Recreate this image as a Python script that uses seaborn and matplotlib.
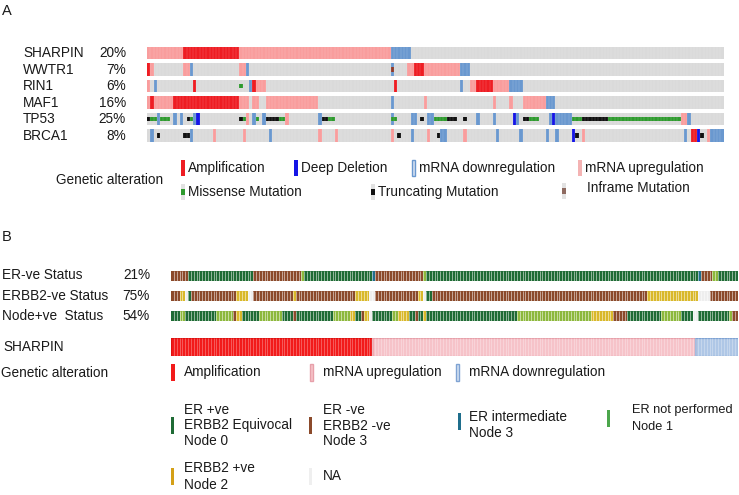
#!/usr/bin/env python3
"""
Oncoprint: SHARPIN y genes asociados (panel A) y estado clínico (panel B).
"""

import numpy as np
import matplotlib
matplotlib.use("Agg")
import matplotlib.pyplot as plt
from matplotlib.colors import ListedColormap
from matplotlib.patches import Rectangle
import seaborn as sns

sns.set_theme(style="white")
plt.rcParams["font.family"] = ["Liberation Sans", "DejaVu Sans"]
plt.rcParams["text.color"] = "#1a1a1a"

W, H = 739, 495

# ---------------- Panel A data ----------------
GENES_A = ["SHARPIN", "WWTR1", "RIN1", "MAF1", "TP53", "BRCA1"]
PCT_A = ["20%", "7%", "6%", "16%", "25%", "8%"]
N_A = 175

# base alterations: (code, first column, number of columns)
# U = mRNA up, A = amplification, L = mRNA down, D = deep deletion
SHARPIN_A = [("U", 0, 11), ("A", 11, 17), ("U", 28, 46), ("L", 74, 6)]
WWTR1_A = [("A", 0, 1), ("U", 1, 1), ("U", 11, 2), ("L", 13, 1), ("U", 28, 2),
           ("L", 30, 1), ("L", 74, 1), ("U", 79, 2), ("A", 81, 3), ("U", 84, 11),
           ("L", 95, 3)]
RIN1_A = [("U", 0, 1), ("L", 2, 1), ("A", 14, 1), ("L", 31, 1), ("A", 32, 1),
          ("U", 33, 3), ("A", 75, 1), ("L", 95, 1), ("U", 98, 2), ("A", 100, 5),
          ("U", 105, 5), ("L", 110, 4)]
MAF1_A = [("U", 0, 1), ("A", 1, 1), ("U", 2, 6), ("A", 8, 20), ("U", 28, 3),
          ("U", 32, 2), ("U", 36, 16), ("L", 74, 1), ("U", 84, 1), ("U", 105, 1),
          ("U", 110, 1), ("U", 114, 7), ("L", 121, 3)]
TP53_A = [("L", 3, 1), ("L", 8, 1), ("L", 10, 1), ("L", 14, 1), ("D", 15, 1),
          ("U", 30, 1), ("L", 32, 1), ("L", 35, 1), ("U", 42, 1), ("L", 52, 1),
          ("L", 74, 1), ("L", 80, 1), ("L", 81, 1), ("L", 85, 2), ("L", 100, 1),
          ("L", 105, 1), ("D", 111, 1), ("L", 112, 1), ("L", 122, 1), ("D", 123, 1),
          ("L", 124, 5), ("U", 162, 2), ("L", 164, 1)]
BRCA1_A = [("L", 1, 1), ("L", 13, 1), ("U", 20, 1), ("U", 29, 1), ("L", 37, 1),
           ("U", 52, 1), ("U", 57, 1), ("U", 74, 1), ("L", 80, 1), ("U", 85, 1),
           ("L", 89, 2), ("U", 96, 1), ("L", 106, 1), ("L", 113, 1), ("L", 121, 1),
           ("L", 124, 1), ("D", 129, 1), ("U", 132, 1), ("L", 163, 1), ("A", 165, 2),
           ("D", 167, 1), ("U", 170, 1), ("L", 171, 4)]

# mutations: (type, first column, number of columns)
# M = missense, T = truncating, I = inframe
WWTR1_MUT = [("I", 74, 1)]
RIN1_MUT = [("M", 28, 1)]
TP53_MUT = [("T", 0, 1), ("M", 1, 2), ("M", 4, 3), ("T", 12, 1), ("M", 13, 1),
            ("T", 28, 1), ("M", 29, 1), ("M", 33, 1), ("T", 36, 4), ("M", 40, 2),
            ("T", 53, 2), ("M", 55, 2), ("M", 74, 2), ("T", 83, 1), ("M", 87, 4),
            ("T", 91, 3), ("T", 96, 1), ("T", 114, 2), ("M", 116, 3), ("M", 129, 3),
            ("T", 132, 8), ("M", 140, 22)]
BRCA1_MUT = [("T", 3, 1), ("T", 11, 2), ("T", 76, 1), ("T", 88, 1), ("T", 130, 1),
             ("T", 168, 1)]

ROWS_A = [SHARPIN_A, WWTR1_A, RIN1_A, MAF1_A, TP53_A, BRCA1_A]
MUTS_A = [[], WWTR1_MUT, RIN1_MUT, [], TP53_MUT, BRCA1_MUT]

# ---------------- Panel B data ----------------
LABELS_B = ["ER-ve Status", "ERBB2-ve Status", "Node+ve  Status"]
PCT_B = ["21%", "75%", "54%"]

# runs: (category, number of columns); G=ER+ve/Equivocal/Node0, B=ER-ve/ERBB2-ve/Node3,
# I=ER intermediate, L=ER not performed/Node1, Y=ERBB2+ve/Node2, N=NA
ER_B = [("B", 6), ("G", 23), ("B", 17), ("L", 1), ("G", 24), ("I", 1), ("B", 17),
        ("L", 1), ("G", 96), ("I", 1), ("B", 4), ("L", 2), ("G", 7)]
ERBB2_B = [("B", 3), ("Y", 2), ("N", 1), ("G", 1), ("B", 16), ("Y", 4), ("N", 2),
           ("B", 14), ("Y", 1), ("B", 21), ("Y", 5), ("N", 2), ("B", 15), ("Y", 2),
           ("N", 1), ("G", 2), ("B", 76), ("Y", 18), ("N", 4), ("B", 10)]
NODE_B = [("G", 3), ("L", 2), ("G", 11), ("L", 6), ("B", 1), ("Y", 2), ("G", 6),
          ("L", 8), ("G", 4), ("B", 1), ("G", 13), ("L", 6), ("Y", 2), ("G", 2),
          ("B", 1), ("Y", 2), ("N", 1), ("G", 7), ("L", 2), ("Y", 4), ("G", 2),
          ("B", 1), ("G", 2), ("Y", 1), ("G", 32), ("L", 26), ("Y", 8), ("B", 5),
          ("G", 12), ("L", 7), ("G", 4), ("N", 2), ("G", 11), ("L", 1), ("B", 2)]
SHARPIN_B = [("A", 71), ("U", 114), ("L", 15)]

# ---------------- colours ----------------
GRAY = "#DADADA"
ALT_CODES = {"N": 0, "A": 1, "D": 2, "L": 3, "U": 4}
ALT_COLORS = [GRAY, "#EE1D23", "#1515E6", "#6A98CF", "#F99D9D"]
MUT_COLORS = {"M": "#2E9A2E", "T": "#111111", "I": "#8E3A2A"}

CLIN_CODES = {"G": 0, "B": 1, "I": 2, "L": 3, "Y": 4, "N": 5}
CLIN_COLORS = ["#1F6B35", "#8B4A2B", "#1F6E8C", "#8DB83C", "#D9B82A", "#EEEEEE"]
SHB_CODES = {"A": 0, "U": 1, "L": 2}
SHB_COLORS = ["#F21B1B", "#F6C3C9", "#AFC7E6"]
SHB_EDGES = ["#E01010", "#E7A0AA", "#7FA3D3"]


def px_axes(x0, y0, x1, y1):
    """Axes a partir de coordenadas en píxeles (origen arriba-izquierda)."""
    return fig.add_axes([x0 / W, 1 - y1 / H, (x1 - x0) / W, (y1 - y0) / H])


def expand_segments(segs, n):
    row = np.zeros(n, dtype=int)
    for code, start, count in segs:
        row[start:start + count] = ALT_CODES[code]
    return row


def expand_runs(runs, mapping):
    return np.array([mapping[c] for c, cnt in runs for _ in range(cnt)])


def draw_track(box, codes, colors, lw, sep_color="white", sep_alpha=0.0):
    ax = px_axes(*box)
    sns.heatmap(codes[None, :], cmap=ListedColormap(colors), vmin=-0.5,
                vmax=len(colors) - 0.5, cbar=False, linewidths=0,
                xticklabels=False, yticklabels=False, ax=ax)
    ax.set_xlim(0, len(codes))
    ax.set_ylim(1, 0)
    # separadores finos entre columnas
    if sep_alpha > 0:
        ax.vlines(np.arange(1, len(codes)), 0, 1, color=sep_color,
                  linewidth=lw, alpha=sep_alpha)
    return ax


fig = plt.figure(figsize=(W / 100, H / 100), dpi=100)
fig.patch.set_facecolor("white")

# ---------------- Panel A ----------------
A_X0, A_X1 = 147, 723.5
A_TOPS = [46.5, 63, 79.5, 96, 112.5, 129]
A_H = 12.8

for segs, muts, top in zip(ROWS_A, MUTS_A, A_TOPS):
    ax = draw_track((A_X0, top, A_X1, top + A_H), expand_segments(segs, N_A),
                    ALT_COLORS, 0.3, sep_alpha=0.35)
    for kind, start, count in muts:
        cols = np.arange(start, start + count) + 0.5
        ax.bar(cols, 0.34, bottom=0.33, width=1.0, color=MUT_COLORS[kind],
               linewidth=0)

# ---------------- Panel B ----------------
B_X0, B_X1 = 171, 738
B_TOPS = [270.5, 290.5, 310.5]
for runs, top in zip([ER_B, ERBB2_B, NODE_B], B_TOPS):
    draw_track((B_X0, top, B_X1, top + 10), expand_runs(runs, CLIN_CODES),
               CLIN_COLORS, 0.45, sep_alpha=0.8)

ax = draw_track((B_X0, 338, B_X1, 356), expand_runs(SHARPIN_B, SHB_CODES),
                SHB_COLORS, 0.4, sep_alpha=0.5)
pos = 0
for code, cnt in SHARPIN_B:
    ax.add_patch(Rectangle((pos, 0.02), cnt, 0.96, fill=False,
                           edgecolor=SHB_EDGES[SHB_CODES[code]], linewidth=0.9))
    pos += cnt

# ---------------- textos y leyendas (coordenadas en píxeles) ----------------
lg = fig.add_axes([0, 0, 1, 1])
lg.set_xlim(0, W)
lg.set_ylim(H, 0)
lg.axis("off")
lg.patch.set_alpha(0)

FS = 9.8


def txt(x, y, s, ha="left", fs=FS):
    lg.text(x, y, s, ha=ha, va="center", fontsize=fs)


def mark(x, yc, color, edge=None, w=4, h=16, inner=None):
    lg.add_patch(Rectangle((x, yc - h / 2), w, h, facecolor=color,
                           edgecolor=edge if edge else "none", linewidth=1 if edge else 0))
    if inner:
        lg.add_patch(Rectangle((x, yc - h / 6), w, h / 3, facecolor=inner,
                               edgecolor="none"))


txt(2, 11, "A", fs=10.5)
for gene, pct, top in zip(GENES_A, PCT_A, A_TOPS):
    txt(23, top + A_H / 2 + 0.5, gene)
    txt(126, top + A_H / 2 + 0.5, pct, ha="right")

txt(56, 180, "Genetic alteration")
mark(181, 168, "#EE1D23")
txt(188, 168, "Amplification")
mark(294, 168, "#1515E6")
txt(301, 168, "Deep Deletion")
mark(412, 168, "#D5E1F1", edge="#6A98CF", w=3)
txt(419, 168, "mRNA downregulation")
mark(578, 168, "#F4B3B3")
txt(585, 168, "mRNA upregulation")
mark(181, 192, "#E2E2E2", inner="#2E9A2E")
txt(188, 192, "Missense Mutation")
mark(371, 192, "#E2E2E2", inner="#111111")
txt(378, 192, "Truncating Mutation")
mark(562, 191, "#E2E2E2", inner="#8E6A60")
txt(587, 188, "Inframe Mutation")

txt(2, 237, "B", fs=10.5)
for lab, pct, y in zip(LABELS_B, PCT_B, [275, 295.5, 315.5]):
    txt(2, y, lab)
    txt(150, y, pct, ha="right")
txt(3, 347, "SHARPIN")
txt(1, 373, "Genetic alteration")

mark(171, 372, "#F21B1B", w=4, h=17)
txt(184, 372, "Amplification")
mark(310, 372, "#F6C3C9", edge="#E7A0AA", w=3, h=17)
txt(323, 372, "mRNA upregulation")
mark(456, 372, "#D3E0F2", edge="#7FA3D3", w=3, h=17)
txt(469, 372, "mRNA downregulation")

mark(171, 425, CLIN_COLORS[0], w=3, h=17)
txt(184, 410, "ER +ve")
txt(184, 425.5, "ERBB2 Equivocal")
txt(184, 441, "Node 0")
mark(309, 425, CLIN_COLORS[1], w=3, h=17)
txt(323, 410, "ER -ve")
txt(323, 425.5, "ERBB2 -ve")
txt(323, 441, "Node 3")
mark(458, 421, CLIN_COLORS[2], w=3, h=17)
txt(469, 417, "ER intermediate")
txt(469, 433, "Node 3")
mark(607, 418, "#4CA64C", w=3, h=17)
txt(632, 410, "ER not performed", fs=9.2)
txt(632, 427, "Node 1", fs=9.2)
mark(171, 476, "#D4A017", w=3, h=17)
txt(184, 468, "ERBB2 +ve")
txt(184, 485, "Node 2")
mark(309, 476, "#EFEFEF", w=3, h=17)
txt(323, 476, "NA")

fig.savefig("out.png", dpi=100, facecolor="white")
